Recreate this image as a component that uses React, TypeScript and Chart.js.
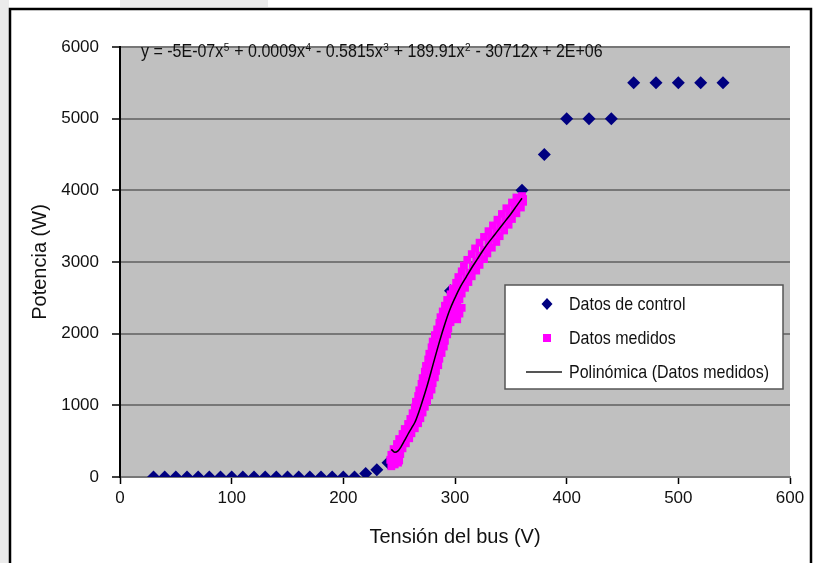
import React, { useEffect, useRef } from 'react';
import { Chart, registerables } from 'chart.js';

Chart.register(...registerables);

// ---- data ----
const xTicks = [0, 100, 200, 300, 400, 500, 600];
const yTicks = [0, 1000, 2000, 3000, 4000, 5000, 6000];

const controlX = [30, 40, 50, 60, 70, 80, 90, 100, 110, 120, 130, 140, 150, 160, 170, 180, 190, 200, 210,
  220, 230, 240, 296, 360, 380, 400, 420, 440, 460, 480, 500, 520, 540];
const controlY = [0, 0, 0, 0, 0, 0, 0, 0, 0, 0, 0, 0, 0, 0, 0, 0, 0, 0, 0,
  50, 100, 200, 2600, 4000, 4500, 5000, 5000, 5000, 5500, 5500, 5500, 5500, 5500];

const medidos: [number, number][] = [
  [243, 150], [246, 175], [249, 200],
  [242, 240], [246, 260], [250, 230],
  [243, 310], [247, 290], [251, 320],
  [245, 390], [249, 370], [253, 400],
  [248, 460], [252, 440], [256, 470],
  [250, 530], [255, 510], [259, 540],
  [253, 600], [257, 580], [261, 610],
  [255, 670], [260, 650], [264, 680],
  [258, 740], [263, 720], [267, 750],
  [260, 810], [265, 790], [269, 820],
  [262, 890], [267, 870], [271, 900],
  [264, 970], [269, 950], [273, 980],
  [265, 1050], [270, 1030], [275, 1060],
  [267, 1130], [272, 1110], [277, 1140],
  [268, 1210], [274, 1190], [279, 1220],
  [270, 1300], [275, 1280], [280, 1310],
  [271, 1380], [277, 1360], [282, 1390],
  [273, 1470], [278, 1450], [283, 1480],
  [274, 1550], [280, 1530], [285, 1560],
  [276, 1640], [281, 1620], [286, 1650],
  [277, 1720], [283, 1700], [288, 1730],
  [279, 1810], [284, 1790], [290, 1820],
  [280, 1890], [286, 1870], [291, 1900],
  [282, 1980], [288, 1960], [293, 1990],
  [284, 2060], [289, 2040], [294, 2070],
  [286, 2150], [291, 2130], [296, 2160],
  [287, 2230], [293, 2210], [298, 2240], [302, 2200],
  [289, 2310], [295, 2290], [300, 2320], [304, 2280],
  [291, 2390], [297, 2370], [302, 2400], [306, 2360],
  [293, 2470], [299, 2450], [304, 2480],
  [296, 2550], [301, 2530], [306, 2560],
  [298, 2630], [304, 2610], [309, 2640],
  [301, 2710], [306, 2690], [312, 2720],
  [303, 2790], [310, 2770], [315, 2800],
  [306, 2870], [313, 2850], [319, 2880],
  [308, 2950], [316, 2930], [322, 2960],
  [311, 3030], [319, 3010], [326, 3040],
  [315, 3110], [322, 3090], [329, 3120],
  [318, 3190], [326, 3170], [333, 3200],
  [322, 3270], [330, 3250], [337, 3280],
  [326, 3350], [333, 3330], [340, 3360],
  [330, 3430], [337, 3410], [344, 3440],
  [334, 3510], [341, 3490], [348, 3520],
  [338, 3590], [345, 3570], [351, 3600],
  [342, 3670], [349, 3650], [355, 3680],
  [346, 3750], [353, 3730], [359, 3760],
  [351, 3830], [357, 3810], [361, 3840],
  [355, 3900], [360, 3920], [361, 3880],
];

const trendX = [243, 246, 249, 252, 255, 258, 261, 264, 267, 270, 275, 280, 285, 290, 295, 300, 305, 310, 315, 320, 325, 330, 335, 340, 345, 350, 355, 360];
const trendY = [385, 345, 365, 430, 515, 600, 680, 760, 880, 1020, 1270, 1550, 1830, 2090, 2320, 2500, 2660, 2790, 2920, 3040, 3160, 3270, 3370, 3470, 3570, 3670, 3780, 3890];

const legendLabels = ['Datos de control', 'Datos medidos', 'Polinómica (Datos medidos)'];
const equationParts: [string, string][] = [
  ['y = -5E-07x', '5'],
  [' + 0.0009x', '4'],
  [' - 0.5815x', '3'],
  [' + 189.91x', '2'],
  [' - 30712x + 2E+06', ''],
];
const xTitle = 'Tensión del bus (V)';
const yTitle = 'Potencia (W)';

const FONT = '"Liberation Sans", Arial, sans-serif';

const decor = {
  id: 'decor',
  beforeDraw(chart: any) {
    const { ctx, chartArea } = chart;
    const { left, top, right, bottom } = chartArea;
    ctx.save();
    ctx.fillStyle = '#ffffff';
    ctx.fillRect(0, 0, chart.width, chart.height);
    ctx.fillStyle = '#ebebeb';
    ctx.fillRect(0, 0, 9, chart.height);
    ctx.fillRect(120, 0, 148, 7);
    ctx.strokeStyle = '#000';
    ctx.lineWidth = 2.5;
    ctx.strokeRect(10, 9, 801, 620);
    ctx.fillStyle = '#c0c0c0';
    ctx.fillRect(left, top, right - left, bottom - top);
    ctx.restore();
  },
  afterDraw(chart: any) {
    const { ctx } = chart;
    ctx.save();
    // equation (slightly tall, as in the reference)
    ctx.fillStyle = '#111';
    ctx.textBaseline = 'alphabetic';
    const base = 57;
    ctx.translate(0, base);
    ctx.scale(1, 1.15);
    let x = 141;
    for (const [t, s] of equationParts) {
      ctx.font = '16px ' + FONT;
      ctx.fillText(t, x, 0);
      x += ctx.measureText(t).width;
      if (s) {
        ctx.font = '10px ' + FONT;
        ctx.fillText(s, x + 0.5, -5);
        x += ctx.measureText(s).width + 1;
      }
    }
    ctx.restore();
    ctx.save();
    // legend
    const bx = 505, by = 285, bw = 278, bh = 104;
    ctx.fillStyle = '#fff';
    ctx.fillRect(bx, by, bw, bh);
    ctx.strokeStyle = '#555';
    ctx.lineWidth = 1.5;
    ctx.strokeRect(bx, by, bw, bh);
    const rows = [304, 338, 372];
    ctx.fillStyle = '#000080';
    ctx.beginPath();
    ctx.moveTo(547 - 5.5, rows[0]);
    ctx.lineTo(547, rows[0] - 6);
    ctx.lineTo(547 + 5.5, rows[0]);
    ctx.lineTo(547, rows[0] + 6);
    ctx.closePath();
    ctx.fill();
    ctx.fillStyle = '#ff00ff';
    ctx.fillRect(543, rows[1] - 4, 8, 8);
    ctx.strokeStyle = '#555';
    ctx.lineWidth = 2;
    ctx.beginPath();
    ctx.moveTo(526, rows[2]);
    ctx.lineTo(562, rows[2]);
    ctx.stroke();
    ctx.fillStyle = '#111';
    ctx.font = '16px ' + FONT;
    ctx.textBaseline = 'middle';
    legendLabels.forEach((l, i) => {
      ctx.save();
      ctx.translate(569, rows[i] + 1);
      ctx.scale(1, 1.12);
      ctx.fillText(l, 0, 0);
      ctx.restore();
    });
    ctx.restore();
  },
};

export default function App() {
  const ref = useRef<HTMLCanvasElement>(null);
  useEffect(() => {
    if (!ref.current) return;
    const chart = new Chart(ref.current, {
      type: 'scatter',
      data: {
        datasets: [
          {
            type: 'line',
            label: legendLabels[2],
            data: trendX.map((x, i) => ({ x, y: trendY[i] })),
            borderColor: '#000',
            borderWidth: 1.5,
            pointRadius: 0,
            cubicInterpolationMode: 'monotone',
            fill: false,
            order: 0,
          } as any,
          {
            label: legendLabels[1],
            data: medidos.map(([x, y]) => ({ x, y })),
            pointStyle: 'rect',
            pointRadius: 5.5,
            backgroundColor: '#ff00ff',
            borderWidth: 0,
            order: 1,
          },
          {
            label: legendLabels[0],
            data: controlX.map((x, i) => ({ x, y: controlY[i] })),
            pointStyle: 'rectRot',
            pointRadius: 6.5,
            backgroundColor: '#000080',
            borderWidth: 0,
            order: 2,
          },
        ],
      },
      options: {
        responsive: false,
        devicePixelRatio: 1,
        animation: false,
        events: [],
        layout: { padding: { top: 47, right: 27, left: 0, bottom: 0 } },
        plugins: { legend: { display: false }, tooltip: { enabled: false } },
        scales: {
          x: {
            type: 'linear',
            min: xTicks[0],
            max: xTicks[xTicks.length - 1],
            afterFit: (s: any) => { s.height = 86; },
            afterBuildTicks: (s: any) => { s.ticks = xTicks.map((v) => ({ value: v })); },
            ticks: {
              font: { family: FONT, size: 17 },
              color: '#111',
              padding: 4,
              maxRotation: 0,
              callback: (v: any) => String(v),
            },
            grid: { drawOnChartArea: false, drawTicks: true, tickLength: 7, tickColor: '#000', tickWidth: 1.5 },
            border: { color: '#777', width: 2 },
            title: { display: true, text: xTitle, font: { family: FONT, size: 20 }, color: '#111', padding: { top: 0, bottom: 14 } },
          },
          y: {
            type: 'linear',
            min: yTicks[0],
            max: yTicks[yTicks.length - 1],
            afterFit: (s: any) => { s.width = 120; },
            afterBuildTicks: (s: any) => { s.ticks = yTicks.map((v) => ({ value: v })); },
            ticks: {
              font: { family: FONT, size: 17 },
              color: '#111',
              padding: 13,
              callback: (v: any) => String(v),
            },
            grid: { color: '#777', lineWidth: 2, tickLength: 8, tickColor: '#000', tickWidth: 1.5 },
            border: { color: '#000', width: 2 },
            title: { display: true, text: yTitle, font: { family: FONT, size: 20 }, color: '#111', padding: { top: 28, bottom: 0 } },
          },
        },
      },
      plugins: [decor],
    } as any);
    return () => chart.destroy();
  }, []);
  return (
    <div style={{ position: 'absolute', left: 0, top: 0, width: 817, height: 563 }}>
      <canvas ref={ref} width={817} height={563} style={{ display: 'block' }} />
    </div>
  );
}
